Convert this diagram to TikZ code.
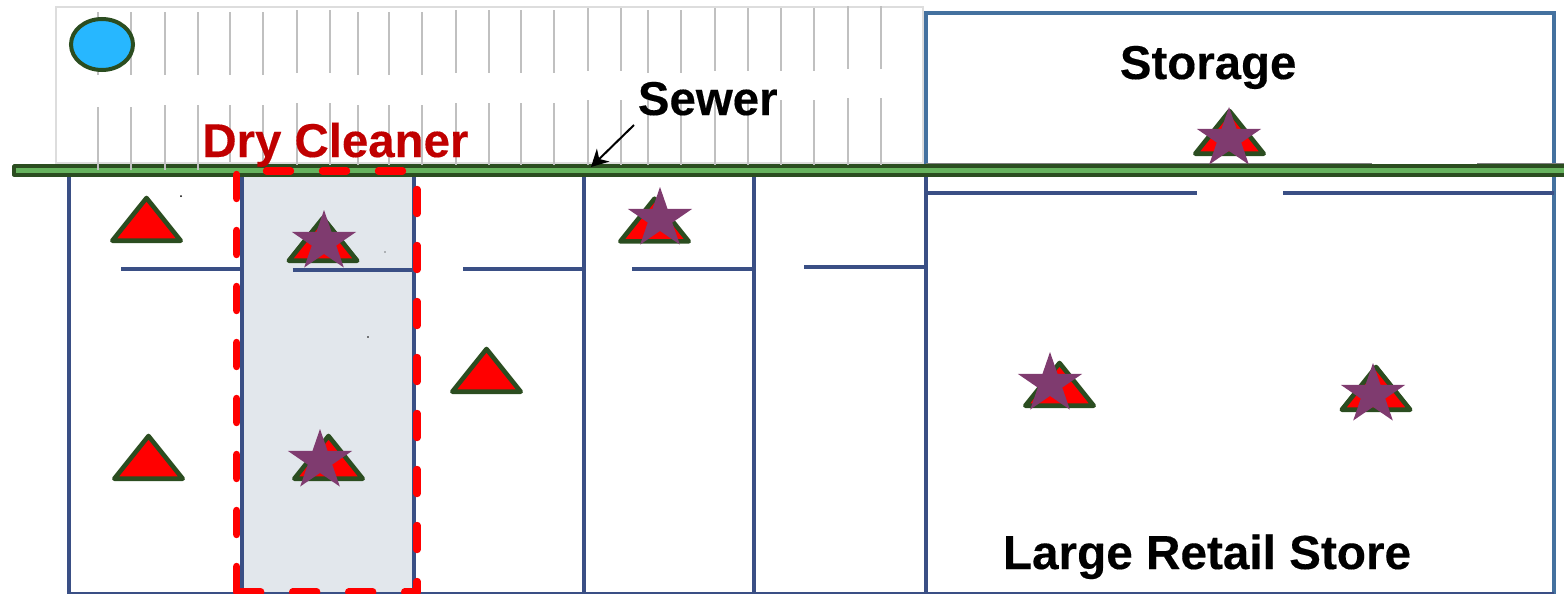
\documentclass[tikz,border=0pt]{standalone}
\usepackage{fontspec}
\setmainfont[BoldFeatures={FakeBold=0.3}]{Liberation Sans}
\usetikzlibrary{shapes.geometric,arrows.meta}
\definecolor{darkgreen}{HTML}{2B4D20}
\definecolor{barfill}{HTML}{66B35E}
\definecolor{navy}{HTML}{3A4F85}
\definecolor{storeblue}{HTML}{44719F}
\definecolor{starpurple}{HTML}{7F3B6F}
\definecolor{cleanerfill}{HTML}{E2E7EC}
\definecolor{gridgray}{HTML}{C0C0C0}
\definecolor{lotgray}{HTML}{DDDDDD}
\definecolor{cleanerred}{HTML}{C00000}
\definecolor{wellblue}{HTML}{27B7FF}
\tikzset{
  wall/.style={draw=navy,line width=1.9pt},
  partition/.style={draw=navy,line width=2pt},
  storewall/.style={draw=storeblue,line width=1.9pt},
  stall/.style={draw=gridgray,line width=1pt},
  trimark/.style={draw=darkgreen,fill=red,line width=2.3pt,line join=round},
  starmark/.style={star,star points=5,star point ratio=2.618,minimum size=31.8pt,inner sep=0pt,outer sep=0pt,fill=starpurple,draw=none,transform shape,xscale=1.06},
  redline/.style={draw=red,line width=3.7pt,line cap=round,dash pattern=on 12pt off 16pt},
  label/.style={font=\fontsize{23.7}{28}\selectfont\bfseries,inner sep=0pt,anchor=base west}
}
\newcommand{\trimarker}[2]{\draw[trimark] ({#1-34.2},{#2-2.3}) -- ({#1+34.2},{#2-2.3}) -- ({#1},{#2-45}) -- cycle;}
\begin{document}
\begin{tikzpicture}[x=0.5pt,y=-0.5pt]
\useasboundingbox (0,0) rectangle (1564,594);
% parking lot
\draw[draw=lotgray,line width=1.25pt] (56,7) rectangle (923,163);
\foreach \x/\a/\b in {98/12/75,131/12/75,165/12/75,198/12/75,230/12/75,263/12/75,297/10/73,330/10/73,358/12/75,389/12/75,422/12/75,456/10/73,489/10/73,521/10/73,554/10/73,588/8/71,621/8/71,648/10/73,681/10/73,715/8/71,748/8/71,781/8/71,814/8/71,848/6/69,881/6/69}
  \draw[stall] (\x,\a) -- (\x,\b);
% cleaner fill
\fill[cleanerfill] (241.7,176) rectangle (413.7,594);
% store
\draw[storewall] (925.7,165) -- (925.7,12.7) -- (1554,12.7) -- (1554,594);
\draw[draw=gray,line width=0.6pt] (926,164) -- (1372,164);
\draw[draw=gray,line width=0.6pt] (1477,164) -- (1564,164);
% walls
\foreach \x in {69,241.7,413.7,583.7,753.7,925.7}
  \draw[wall] (\x,176) -- (\x,594);
\draw[partition] (69,593.5) -- (1554,593.5);
\draw[partition] (121,269.3) -- (241.7,269.3);
\draw[partition] (292.7,270) -- (413.7,270);
\draw[partition] (463,269.3) -- (583.7,269.3);
\draw[partition] (632,269.3) -- (753.7,269.3);
\draw[partition] (804,266.7) -- (925.7,266.7);
\draw[partition] (925.7,193.3) -- (1197,193.3);
\draw[partition] (1283,193.3) -- (1554,193.3);
% sewer bar
\draw[draw=darkgreen,fill=barfill,line width=1.9pt,line join=round] (14,166) rectangle (1575,174.6);
\foreach \x/\a/\b in {98/107/170,131/107/170,165/105/170,198/105/170,230/105/162,263/105/164,297/103/165,330/103/165,358/105/165,389/105/165,422/105/165,456/103/165,489/103/165,521/103/165,554/103/165,588/100/165,621/100/165,648/100/165,681/100/165,715/100/165,748/100/165,781/100/165,814/100/165,848/98/165,881/98/165}
  \draw[stall] (\x,\a) -- (\x,\b);
% well
\node[ellipse,draw=darkgreen,fill=wellblue,line width=2pt,minimum width=31pt,minimum height=25.5pt,inner sep=0pt,outer sep=0pt] (well) at (102,44.5) {};
% sampling marks
\trimarker{146.5}{243}
\trimarker{323}{263}
\trimarker{148.5}{481}
\trimarker{486.5}{394}
\trimarker{654.5}{243.7}
\trimarker{328.5}{481}
\trimarker{1229.5}{156}
\trimarker{1059.5}{408}
\trimarker{1376}{412}
\node[starmark] (s1) at (324,241.8) {};
\node[starmark] (s2) at (320,460.8) {};
\node[starmark] (s3) at (660,218.8) {};
\node[starmark] (s4) at (1229,138.8) {};
\node[starmark] (s5) at (1050,383.8) {};
\node[starmark] (s6) at (1373,394.8) {};
% specks
\fill (181,196) circle (0.5pt);
\fill (385,252) circle (0.3pt);
\fill (368,337) circle (0.4pt);
% dry cleaner outline
\draw[redline] (236.7,174.5) -- (236.7,592);
\draw[redline] (236.7,592) -- (417,592);
\draw[redline] (417,189.5) -- (417,592);
\draw[redline] (266.5,171) -- (402.5,171);
% labels
\node[label,text=cleanerred] (cleaner) at (202,157) {Dry Cleaner};
\node[label] (sewer) at (637.5,115) {Sewer};
\node[label] (storage) at (1119.5,79) {Storage};
\node[label,font=\fontsize{23.85}{28}\selectfont\bfseries] (retail) at (1002.5,569) {Large Retail Store};
\coordinate (arrowstart) at (634,125);
\coordinate (arrowtip) at (591,167);
\draw[-{Stealth[length=8.5pt,width=9pt]},line width=1pt] (arrowstart) -- (arrowtip);
\end{tikzpicture}
\end{document}
